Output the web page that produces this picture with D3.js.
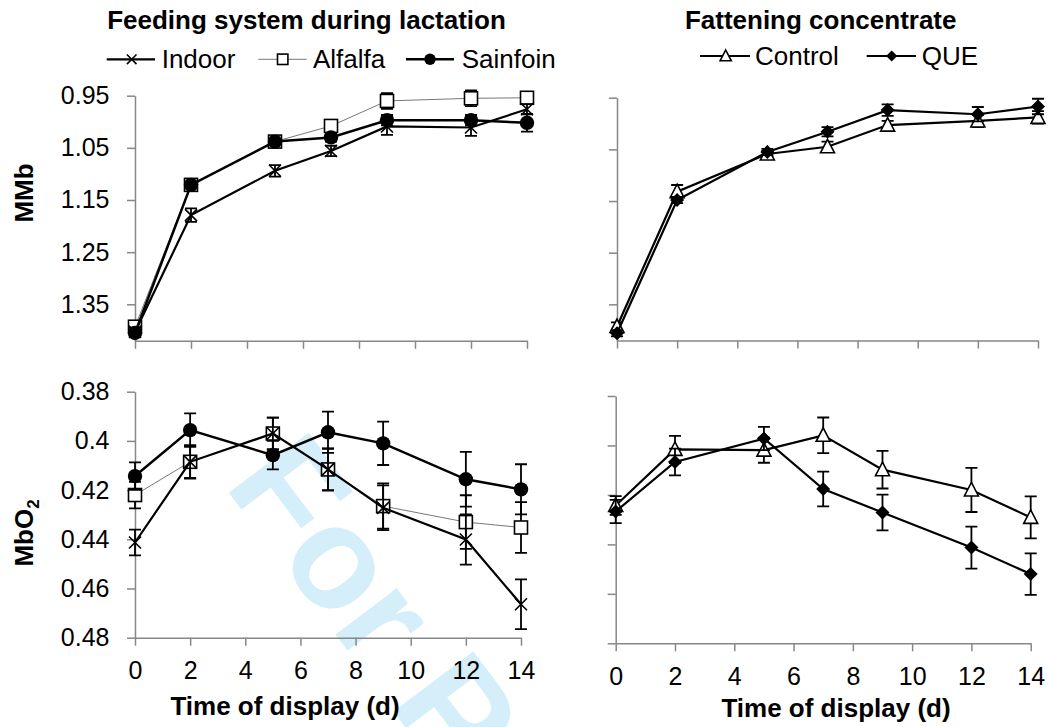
<!DOCTYPE html>
<meta charset="utf-8">
<style>
body { margin: 0; background: #fff; }
text { font-family: "Liberation Sans", Arial, sans-serif; }
.axis path, .axis line { stroke: #878787; stroke-width: 1.5px; }
.axis text { font-size: 25px; fill: #000; }
.title { font-size: 26px; font-weight: bold; }
.legend text { font-size: 26px; }
</style>
<body>
<div id="chart"></div>
<script src="https://d3js.org/d3.v7.min.js"></script>
<script>

var days = [0, 2, 5, 7, 9, 12, 14];
var xTicks = [0, 2, 4, 6, 8, 10, 12, 14];
var mmbTicks = [0.95, 1.05, 1.15, 1.25, 1.35];
var mbo2Ticks = [0.38, 0.40, 0.42, 0.44, 0.46, 0.48];

// MMb, feeding system during lactation
var indoorMMb   = [1.403, 1.179, 1.094, 1.056, 1.009, 1.011, 0.976];
var alfalfaMMb  = [1.393, 1.121, 1.038, 1.008, 0.960, 0.955, 0.954];
var sainfoinMMb = [1.405, 1.121, 1.038, 1.030, 0.997, 0.997, 1.002];
var indoorMMbSE   = [0.008, 0.013, 0.011, 0.010, 0.016, 0.016, 0.010];
var alfalfaMMbSE  = [0.006, 0.005, 0.005, 0.006, 0.015, 0.015, 0.010];
var sainfoinMMbSE = [0.006, 0.005, 0.005, 0.008, 0.010, 0.010, 0.017];

// MMb, fattening concentrate
var controlMMb = [1.393, 1.132, 1.059, 1.045, 1.003, 0.995, 0.988];
var queMMb     = [1.406, 1.148, 1.055, 1.016, 0.974, 0.982, 0.967];
var controlMMbSE = [0.008, 0.013, 0.006, 0.010, 0.008, 0.012, 0.012];
var queMMbSE     = [0.006, 0.006, 0.006, 0.009, 0.011, 0.014, 0.015];

// MbO2, feeding system during lactation
var indoorMbO2   = [0.4413, 0.4085, 0.3970, 0.4116, 0.4272, 0.4401, 0.4664];
var alfalfaMbO2  = [0.4220, 0.4085, 0.3970, 0.4116, 0.4265, 0.4330, 0.4352];
var sainfoinMbO2 = [0.4143, 0.3956, 0.4058, 0.3965, 0.4010, 0.4156, 0.4197];
var indoorMbO2SE   = [0.0052, 0.0065, 0.0065, 0.0084, 0.0091, 0.0102, 0.0101];
var alfalfaMbO2SE  = [0.0054, 0.0068, 0.0065, 0.0086, 0.0092, 0.0109, 0.0103];
var sainfoinMbO2SE = [0.0056, 0.0068, 0.0058, 0.0084, 0.0088, 0.0111, 0.0102];

// MbO2, fattening concentrate
var controlMbO2 = [0.4243, 0.4016, 0.4019, 0.3959, 0.4098, 0.4180, 0.4291];
var queMbO2     = [0.4267, 0.4067, 0.3972, 0.4176, 0.4271, 0.4413, 0.4520];
var controlMbO2SE = [0.0038, 0.0055, 0.0051, 0.0072, 0.0076, 0.0089, 0.0085];
var queMbO2SE     = [0.0047, 0.0054, 0.0047, 0.0070, 0.0072, 0.0085, 0.0084];

var width = 1049, height = 727;

var svg = d3.select("#chart")
    .append("svg")
    .attr("width", width)
    .attr("height", height);

// watermark behind everything, only "For P" shows inside the frame
svg.append("text")
    .attr("transform", "translate(223,485) rotate(53)")
    .attr("font-size", 145)
    .attr("font-weight", "bold")
    .attr("fill", "#d4eefa")
    .text("For P");

var styles = {
  indoor:   { marker: "x",        stroke: "#000", lw: 2.2 },
  alfalfa:  { marker: "square",   stroke: "#555", lw: 0.8 },
  sainfoin: { marker: "circle",   stroke: "#000", lw: 2.5 },
  control:  { marker: "triangle", stroke: "#000", lw: 2.2 },
  que:      { marker: "diamond",  stroke: "#000", lw: 2.2 }
};

function drawMarker(g, type, cx, cy, s) {
  s = s || 1;
  if (type == "x") {
    var h = 6 * s;
    g.append("path")
        .attr("d", "M" + (cx - h) + "," + (cy - h) + "L" + (cx + h) + "," + (cy + h) +
                   "M" + (cx - h) + "," + (cy + h) + "L" + (cx + h) + "," + (cy - h))
        .attr("stroke", "#000").attr("stroke-width", 1.6).attr("fill", "none");
  } else if (type == "square") {
    var h = 6.5 * s;
    g.append("rect")
        .attr("x", cx - h).attr("y", cy - h)
        .attr("width", 2 * h).attr("height", 2 * h)
        .attr("fill", "#fff").attr("stroke", "#000").attr("stroke-width", 1.6);
  } else if (type == "circle") {
    g.append("circle")
        .attr("cx", cx).attr("cy", cy).attr("r", 7.2 * s)
        .attr("fill", "#000");
  } else if (type == "triangle") {
    var w = 7 * s, t = 7.5 * s;
    g.append("path")
        .attr("d", "M" + cx + "," + (cy - t) + "L" + (cx + w) + "," + (cy + t * 0.8) +
                   "L" + (cx - w) + "," + (cy + t * 0.8) + "Z")
        .attr("fill", "#fff").attr("stroke", "#000").attr("stroke-width", 1.6);
  } else if (type == "diamond") {
    var w = 7 * s;
    g.append("path")
        .attr("d", "M" + cx + "," + (cy - w) + "L" + (cx + w) + "," + cy +
                   "L" + cx + "," + (cy + w) + "L" + (cx - w) + "," + cy + "Z")
        .attr("fill", "#000");
  }
}

function panel(opt) {
  var x = d3.scaleLinear().domain([0, 14]).range([opt.left, opt.right]);
  var y = d3.scaleLinear().domain(opt.domain).range([opt.top, opt.bottom]);
  var g = svg.append("g");

  var xAxis = d3.axisBottom(x).tickValues(xTicks).tickSize(8).tickSizeOuter(0).tickPadding(16);
  if (!opt.xLabels) xAxis.tickFormat("");
  g.append("g")
      .attr("class", "axis")
      .attr("transform", "translate(0," + opt.bottom + ")")
      .call(xAxis);

  var yAxis = d3.axisLeft(y).tickValues(opt.ticks).tickSize(8).tickSizeOuter(0).tickPadding(17.5)
      .tickFormat(function(d) { return opt.yLabels ? String(+d.toFixed(2)) : ""; });
  g.append("g")
      .attr("class", "axis")
      .attr("transform", "translate(" + opt.left + ",0)")
      .call(yAxis);

  var line = d3.line()
      .x(function(d) { return x(d[0]); })
      .y(function(d) { return y(d[1]); });

  opt.series.forEach(function(s) {
    var st = styles[s.key];
    var pts = days.map(function(d, i) { return [d, s.values[i], s.se[i]]; });
    var sg = g.append("g");
    sg.append("path")
        .datum(pts)
        .attr("d", line)
        .attr("fill", "none")
        .attr("stroke", st.stroke)
        .attr("stroke-width", st.lw);
    pts.forEach(function(p) {
      var px = x(p[0]), y1 = y(p[1] - p[2]), y2 = y(p[1] + p[2]);
      sg.append("path")
          .attr("d", "M" + px + "," + y1 + "L" + px + "," + y2 +
                     "M" + (px - 6) + "," + y1 + "L" + (px + 6) + "," + y1 +
                     "M" + (px - 6) + "," + y2 + "L" + (px + 6) + "," + y2)
          .attr("stroke", "#000").attr("stroke-width", 1.8).attr("fill", "none");
    });
    pts.forEach(function(p) {
      drawMarker(sg, st.marker, x(p[0]), y(p[1]));
    });
  });
}

// top left
panel({
  left: 135, right: 527, top: 95.7, bottom: 340.8,
  domain: [0.95, 1.42], ticks: mmbTicks, xLabels: false, yLabels: true,
  series: [
    { key: "alfalfa",  values: alfalfaMMb,  se: alfalfaMMbSE },
    { key: "indoor",   values: indoorMMb,   se: indoorMMbSE },
    { key: "sainfoin", values: sainfoinMMb, se: sainfoinMMbSE }
  ]
});

// top right
panel({
  left: 617, right: 1038, top: 97.7, bottom: 340.5,
  domain: [0.95, 1.42], ticks: mmbTicks, xLabels: false, yLabels: false,
  series: [
    { key: "control", values: controlMMb, se: controlMMbSE },
    { key: "que",     values: queMMb,     se: queMMbSE }
  ]
});

// bottom left
panel({
  left: 135, right: 521, top: 391.7, bottom: 637.7,
  domain: [0.38, 0.48], ticks: mbo2Ticks, xLabels: true, yLabels: true,
  series: [
    { key: "alfalfa",  values: alfalfaMbO2,  se: alfalfaMbO2SE },
    { key: "indoor",   values: indoorMbO2,   se: indoorMbO2SE },
    { key: "sainfoin", values: sainfoinMbO2, se: sainfoinMbO2SE }
  ]
});

// bottom right
panel({
  left: 615.7, right: 1030.7, top: 396, bottom: 643.3,
  domain: [0.38, 0.48], ticks: mbo2Ticks, xLabels: true, yLabels: false,
  series: [
    { key: "control", values: controlMbO2, se: controlMbO2SE },
    { key: "que",     values: queMbO2,     se: queMbO2SE }
  ]
});

// titles
svg.append("text").attr("class", "title")
    .attr("x", 306.5).attr("y", 29.3).attr("text-anchor", "middle")
    .text("Feeding system during lactation");
svg.append("text").attr("class", "title")
    .attr("x", 820.7).attr("y", 29.3).attr("text-anchor", "middle")
    .text("Fattening concentrate");

// axis titles
svg.append("text").attr("class", "title")
    .attr("x", 285).attr("y", 715).attr("text-anchor", "middle")
    .text("Time of display (d)");
svg.append("text").attr("class", "title")
    .attr("x", 836).attr("y", 717).attr("text-anchor", "middle")
    .text("Time of display (d)");
svg.append("text").attr("class", "title")
    .attr("transform", "translate(33,193) rotate(-90)")
    .attr("text-anchor", "middle")
    .text("MMb");
var mbo2 = svg.append("text").attr("class", "title")
    .attr("transform", "translate(33,533) rotate(-90)")
    .attr("text-anchor", "middle");
mbo2.append("tspan").text("MbO");
mbo2.append("tspan").attr("font-size", 17).attr("dy", 6).text("2");

// legends
var legendItems = [
  { key: "indoor",   label: "Indoor",   x1: 106.7, x2: 155,   mx: 131.7, tx: 161.7, y: 59.3 },
  { key: "alfalfa",  label: "Alfalfa",  x1: 258.3, x2: 306.7, mx: 282.7, tx: 313,   y: 59.3 },
  { key: "sainfoin", label: "Sainfoin", x1: 406,   x2: 454,   mx: 430,   tx: 461.7, y: 59.3 },
  { key: "control",  label: "Control",  x1: 700,   x2: 750,   mx: 725.7, tx: 755,   y: 56 },
  { key: "que",      label: "QUE",      x1: 866.7, x2: 916,   mx: 891.7, tx: 921.7, y: 56 }
];
var legend = svg.append("g").attr("class", "legend");
legendItems.forEach(function(d) {
  var st = styles[d.key];
  legend.append("line")
      .attr("x1", d.x1).attr("x2", d.x2).attr("y1", d.y).attr("y2", d.y)
      .attr("stroke", st.stroke).attr("stroke-width", st.lw);
  drawMarker(legend, st.marker, d.mx, d.y, 0.8);
  legend.append("text")
      .attr("x", d.tx).attr("y", d.y + 9)
      .text(d.label);
});

</script>
